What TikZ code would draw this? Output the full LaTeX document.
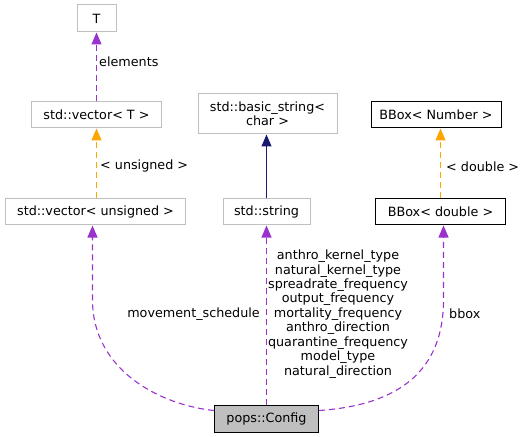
\documentclass[tikz,border=0pt]{standalone}
\usepackage{fontspec}
\setmainfont{DejaVu Sans}
\usetikzlibrary{arrows.meta}
\definecolor{cpurple}{HTML}{9A32CD}
\definecolor{corange}{HTML}{FFA500}
\definecolor{cnavy}{HTML}{191970}
\definecolor{cgrey}{HTML}{BFBFBF}
\tikzset{
  cls/.style={draw=cgrey, line width=1bp, inner sep=0pt, align=center, font=\fontsize{12.8}{14.5}\selectfont},
  clsb/.style={cls, draw=black},
  lbl/.style={inner sep=0pt, align=center, font=\fontsize{12.8}{14.5}\selectfont},
  tip/.style={-{Triangle[length=12bp,width=10bp,fill=#1]}},
  usage/.style={tip=cpurple, draw=cpurple, line width=1.1bp, dash pattern=on 6bp off 4bp},
  tmpl/.style={tip=corange, draw=corange, line width=1.1bp, dash pattern=on 6bp off 4bp},
  inh/.style={tip=cnavy, draw=cnavy, line width=1.1bp},
}
\begin{document}
\begin{tikzpicture}[x=1bp,y=-1bp]
\useasboundingbox (0,0) rectangle (525,437);
\node[cls, minimum width=39bp, minimum height=27bp] (T) at (96.5,18.5) {T};
\node[cls, minimum width=130bp, minimum height=26bp] (vecT) at (96.5,115) {std::vector< T >};
\node[cls, minimum width=180bp, minimum height=26bp] (vecu) at (95.5,212) {std::vector< unsigned >};
\node[cls, minimum width=139bp, minimum height=40bp] (bstr) at (267.5,114) {std::basic\_string<\\char >};
\node[cls, minimum width=87bp, minimum height=26bp] (str) at (266.5,212) {std::string};
\node[clsb, minimum width=130bp, minimum height=26bp] (bbn) at (436,115) {BBox< Number >};
\node[clsb, minimum width=130bp, minimum height=26bp] (bbd) at (440.5,212) {BBox< double >};
\node[clsb, fill=cgrey, minimum width=104bp, minimum height=27bp] (cfg) at (266.5,418.5) {pops::Config};

\draw[usage] (vecT.north) -- (T.south);
\node[lbl, anchor=west] (lelem) at (99,62) {elements};
\draw[tmpl] ([xshift=1bp]vecu.north) -- (vecT.south);
\node[lbl, anchor=west] (luns) at (100,166) {< unsigned >};
\draw[inh] (str.north) -- (str.north |- bstr.south);
\draw[tmpl] (bbd.north) -- (bbd.north |- bbn.south);
\node[lbl, anchor=west] (ldbl) at (446,167) {< double >};

\draw[usage] ([yshift=8bp]cfg.west) .. controls (160,405) and (92.5,370) .. (92.5,300) -- ([xshift=-3bp]vecu.south);
\node[lbl, anchor=east] (lmov) at (260,314) {movement\_schedule};
\draw[usage] (cfg.north) -- (str.south);
\node[lbl] (lmany) at (338,314) {anthro\_kernel\_type\\natural\_kernel\_type\\spreadrate\_frequency\\output\_frequency\\mortality\_frequency\\anthro\_direction\\quarantine\_frequency\\model\_type\\natural\_direction};
\draw[usage] ([yshift=8bp]cfg.east) .. controls (400,405) and (443.5,370) .. (443.5,300) -- ([xshift=3bp]bbd.south);
\node[lbl, anchor=west] (lbbox) at (449,314) {bbox};
\end{tikzpicture}
\end{document}
